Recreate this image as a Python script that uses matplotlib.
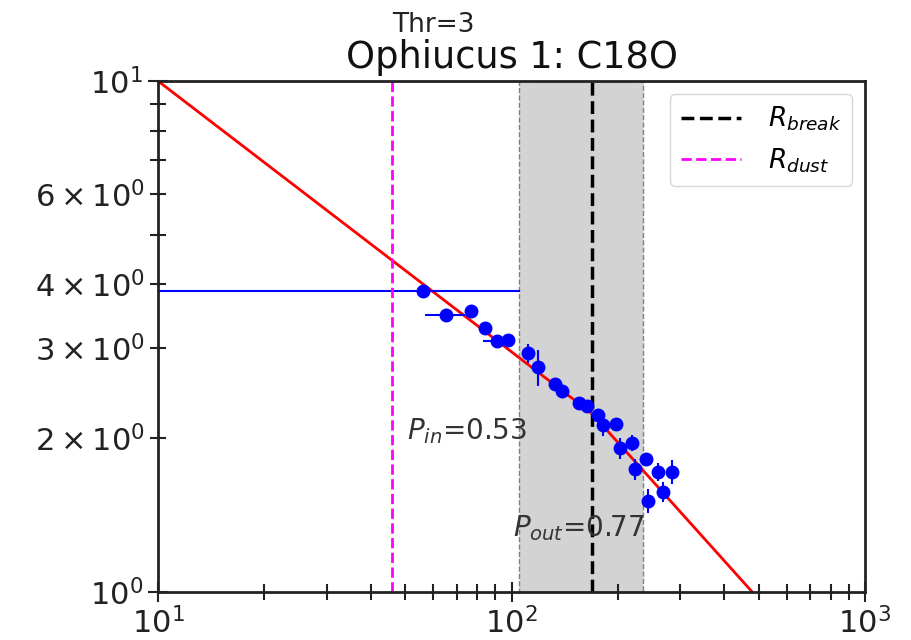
import matplotlib
matplotlib.use('Agg')
import matplotlib.pyplot as plt

# radial profile points with error bars
r_pts = [56.3, 65.3, 76.7, 84.1, 91.2, 97.9, 111.6, 119.1, 132.8, 138.7, 155.5,
         163.2, 176.1, 181.9, 197.5, 202.8, 218.8, 223.6, 240.2, 243.8, 260.2,
         267.7, 283.9]
w_pts = [3.888, 3.484, 3.547, 3.290, 3.099, 3.113, 2.931, 2.753, 2.553, 2.477,
         2.341, 2.312, 2.220, 2.122, 2.129, 1.910, 1.960, 1.738, 1.818, 1.509,
         1.719, 1.572, 1.719]
r_err = [2.0, 8.5, 2.0, 2.0, 8.0, 2.0, 2.0, 2.0, 2.0, 2.0, 2.0,
         2.0, 2.0, 2.0, 2.0, 2.0, 2.0, 2.0, 2.0, 2.0, 2.0,
         2.0, 2.0]
w_err = [0.03, 0.03, 0.03, 0.03, 0.03, 0.03, 0.13, 0.22, 0.03, 0.03, 0.03,
         0.03, 0.06, 0.10, 0.03, 0.09, 0.07, 0.08, 0.03, 0.08, 0.07,
         0.07, 0.09]

# plateau level inside the break window
plateau_w = 3.888
plateau_r = [10.0, 105.2]

r_dust = 45.8
r_break = 168.6
break_lo, break_hi = 105.2, 235.0

p_in, p_out = 0.53, 0.77
fit_r0, fit_w0 = 10.0, 10.0
r_max = 1000.0
thr = 3

# broken power law: slope p_in inside r_break, p_out outside
w_break = fit_w0 * (r_break / fit_r0) ** (-p_in)
fit_r = [fit_r0, r_break, r_max]
fit_w = [fit_w0, w_break, w_break * (r_max / r_break) ** (-p_out)]

fig = plt.figure(figsize=(9.11, 6.4), dpi=100)
ax = fig.add_axes([158 / 911, 1 - 592 / 640, (865 - 158) / 911, (592 - 81) / 640])
ax.set_xscale('log')
ax.set_yscale('log')

ax.axvspan(break_lo, break_hi, facecolor='lightgray', edgecolor='gray',
           linestyle='--', linewidth=1, zorder=0)
ax.plot(fit_r, fit_w, color='red', linewidth=2, zorder=2)
ax.plot(plateau_r, [plateau_w, plateau_w], color='blue', linewidth=1.5, zorder=2)
ax.errorbar(r_pts, w_pts, xerr=r_err, yerr=w_err, fmt='o', color='blue',
            markersize=9, elinewidth=1.5, zorder=3)
ax.axvline(r_break, color='black', linestyle='--', linewidth=2.5,
           label=r'$R_{break}$', zorder=2)
ax.axvline(r_dust, color='magenta', linestyle='--', linewidth=2,
           label=r'$R_{dust}$', zorder=2)

ax.text(50.5, 1.993, r'$P_{in}$=%.2f' % p_in, fontsize=20, color='#333333',
        va='baseline', zorder=4)
ax.text(101.2, 1.283, r'$P_{out}$=%.2f' % p_out, fontsize=20, color='#333333',
        va='baseline', zorder=4)

ax.set_xlim(10, 1000)
ax.set_ylim(1, 10)
ax.tick_params(which='both', direction='inout', labelsize=22, width=1.5,
               colors='#222222')
ax.tick_params(which='major', length=14.5)
ax.tick_params(which='minor', length=11.5)
for spine in ax.spines.values():
    spine.set_linewidth(2)
    spine.set_color('#222222')

ax.set_title('Ophiucus 1: C18O', fontsize=26.5, pad=9.5, color='#111111')
fig.text(433.5 / 911, 1 - 32 / 640, 'Thr=%d' % thr, fontsize=19, ha='center',
         va='baseline', color='#222222')

ax.legend(loc='upper right', fontsize=19, handlelength=2.3, handletextpad=1.0)

fig.savefig('out.png', dpi=100)
